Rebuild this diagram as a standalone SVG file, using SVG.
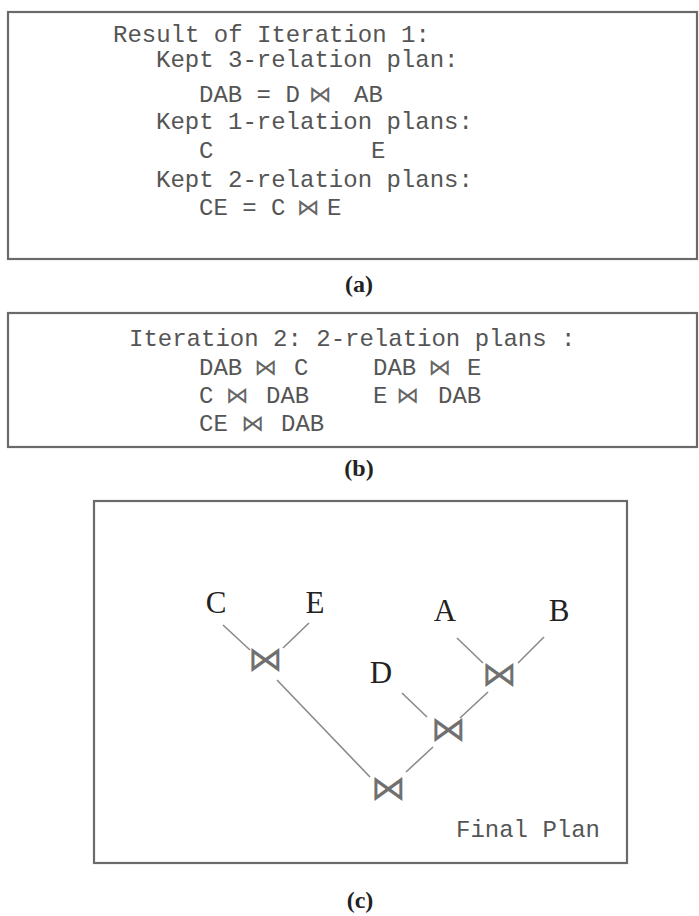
<svg xmlns="http://www.w3.org/2000/svg" width="699" height="916" viewBox="0 0 699 916">
<style>
.frame{fill:#fff;stroke:#6a6a6a;stroke-width:2.2}
.mono{font-family:"Liberation Mono","Courier New",monospace;font-size:24px;fill:#555;white-space:pre}
.bt{font-family:"DejaVu Sans",sans-serif;font-size:23px;fill:#666;text-anchor:middle}
.cap{font-family:"Liberation Serif","Times New Roman",serif;font-size:24px;font-weight:bold;fill:#222;text-anchor:middle}
.rel{font-family:"Liberation Serif","Times New Roman",serif;font-size:31px;fill:#222;text-anchor:middle}
.join{font-family:"DejaVu Sans",sans-serif;font-size:35px;fill:#707070;text-anchor:middle}
.edge{stroke:#8a8a8a;stroke-width:1.6;fill:none}
</style>
<rect width="699" height="916" fill="#fff"/>
<g id="panel-a">
<rect class="frame" x="8" y="12" width="689" height="247"/>
<text class="mono" x="113" y="42">Result of Iteration 1:</text>
<text class="mono" x="156" y="67">Kept 3-relation plan:</text>
<text class="mono" x="199" y="102">DAB = D</text><text class="bt" x="320.5" y="102">⋈</text><text class="mono" x="354" y="102">AB</text>
<text class="mono" x="156" y="129">Kept 1-relation plans:</text>
<text class="mono" x="199" y="158">C</text><text class="mono" x="371" y="158">E</text>
<text class="mono" x="156" y="187">Kept 2-relation plans:</text>
<text class="mono" x="199" y="215">CE = C</text><text class="bt" x="308.5" y="215">⋈</text><text class="mono" x="327" y="215">E</text>
<text class="cap" x="359" y="292">(a)</text>
</g>
<g id="panel-b">
<rect class="frame" x="8" y="313" width="689" height="134"/>
<text class="mono" x="129" y="346">Iteration 2: 2-relation plans :</text>
<text class="mono" x="199" y="375">DAB</text><text class="bt" x="266" y="375">⋈</text><text class="mono" x="294" y="375">C</text>
<text class="mono" x="373" y="375">DAB</text><text class="bt" x="440" y="375">⋈</text><text class="mono" x="467" y="375">E</text>
<text class="mono" x="199" y="403">C</text><text class="bt" x="237.5" y="403">⋈</text><text class="mono" x="266" y="403">DAB</text>
<text class="mono" x="373" y="403">E</text><text class="bt" x="408" y="403">⋈</text><text class="mono" x="438" y="403">DAB</text>
<text class="mono" x="199" y="431">CE</text><text class="bt" x="253" y="431">⋈</text><text class="mono" x="281" y="431">DAB</text>
<text class="cap" x="359" y="476">(b)</text>
</g>
<g id="panel-c">
<rect class="frame" x="94" y="501" width="533" height="362"/>
<text class="mono" x="456" y="837">Final Plan</text>
<text class="cap" x="360" y="908">(c)</text>
</g>
<g id="connectors">
<line class="edge" x1="223" y1="625" x2="250" y2="650"/>
<line class="edge" x1="309" y1="623" x2="283" y2="648"/>
<line class="edge" x1="277" y1="680" x2="370" y2="777"/>
<line class="edge" x1="457" y1="638" x2="483" y2="663"/>
<line class="edge" x1="544" y1="637" x2="518" y2="663"/>
<line class="edge" x1="488" y1="692" x2="460" y2="718"/>
<line class="edge" x1="402" y1="693" x2="427" y2="717"/>
<line class="edge" x1="433" y1="747" x2="406" y2="772"/>
</g>
<g id="node-C"><text class="rel" x="216" y="613">C</text></g>
<g id="node-E"><text class="rel" x="315" y="613">E</text></g>
<g id="node-A"><text class="rel" x="445" y="621">A</text></g>
<g id="node-B"><text class="rel" x="559" y="621">B</text></g>
<g id="node-D"><text class="rel" x="381" y="683">D</text></g>
<g id="join-CE"><text class="join" x="265" y="671">⋈</text></g>
<g id="join-AB"><text class="join" x="499" y="686">⋈</text></g>
<g id="join-DAB"><text class="join" x="448" y="741">⋈</text></g>
<g id="join-root"><text class="join" x="388" y="800">⋈</text></g>
</svg>
